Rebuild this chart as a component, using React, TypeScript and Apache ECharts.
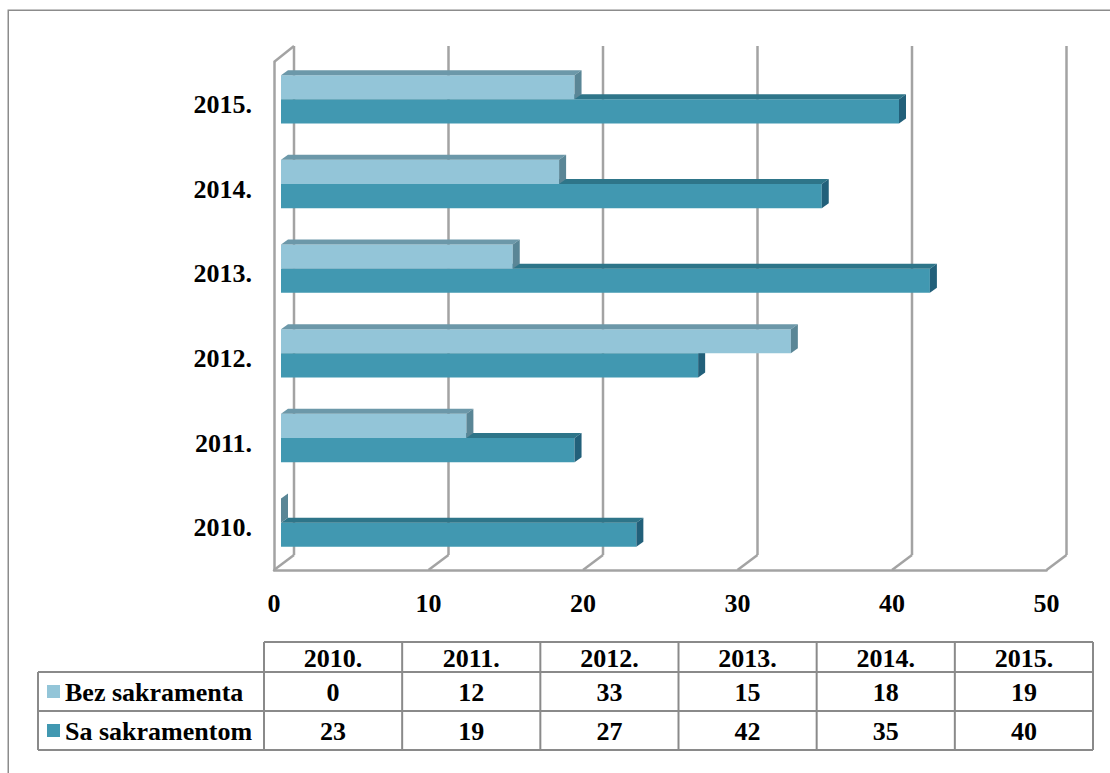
import React, { useEffect, useRef } from "react";
import * as echarts from "echarts";

const categories = ["2010.", "2011.", "2012.", "2013.", "2014.", "2015."];
const seriesNames = ["Bez sakramenta", "Sa sakramentom"];
const bezValues = [0, 12, 33, 15, 18, 19];
const saValues = [23, 19, 27, 42, 35, 40];
const xTicks = [0, 10, 20, 30, 40, 50];

const GRID_COLOR = "#a3a3a3";
const TABLE_COLOR = "#8a8a8a";
const DEPTH_X = 20;
const DEPTH_Y = -15;
const FONT_SIZE = 26;

const palette = [
  { front: "#93C5D8", top: "#6C98A9", side: "#5A8696" },
  { front: "#4198B1", top: "#2E7589", side: "#22607A" },
];

function makeBarRenderer(which: number) {
  return (params: any, api: any) => {
    const cat = api.value(1);
    const val = api.value(0);
    const base = api.coord([0, cat]);
    const end = api.coord([val, cat]);
    const bandH = api.size([0, 1])[1];
    const barH = bandH * 0.285;
    const ox = 7;
    const oy = -5;
    const dx = 7;
    const dy = -5;
    const cy = base[1] + oy;
    const y0 = which === 0 ? cy - barH : cy;
    const y1 = which === 0 ? cy : cy + barH;
    const x0 = base[0] + ox;
    const x1 = end[0] + ox;
    const c = palette[which];
    return {
      type: "group",
      children: [
        {
          type: "rect",
          shape: { x: x0, y: y0, width: x1 - x0, height: y1 - y0 },
          style: { fill: c.front },
        },
        {
          type: "polygon",
          shape: { points: [[x0, y0], [x1, y0], [x1 + dx, y0 + dy], [x0 + dx, y0 + dy]] },
          style: { fill: c.top },
        },
        {
          type: "polygon",
          shape: { points: [[x1, y0], [x1, y1], [x1 + dx, y1 + dy], [x1 + dx, y0 + dy]] },
          style: { fill: c.side },
        },
      ],
    };
  };
}

function wallRenderer(params: any, api: any) {
  const v = api.value(0);
  const cs = params.coordSys;
  const fx = api.coord([v, 0])[0];
  const floorY = cs.y + cs.height;
  const topY = cs.y;
  const ls = { stroke: GRID_COLOR, lineWidth: 2.5 };
  const children: any[] = [
    { type: "line", shape: { x1: fx, y1: floorY, x2: fx + DEPTH_X, y2: floorY + DEPTH_Y }, style: ls },
    { type: "line", shape: { x1: fx + DEPTH_X, y1: floorY + DEPTH_Y, x2: fx + DEPTH_X, y2: topY + DEPTH_Y - 1 }, style: ls },
  ];
  if (v === 0) {
    children.push({ type: "line", shape: { x1: fx, y1: topY, x2: fx + DEPTH_X, y2: topY + DEPTH_Y - 1 }, style: ls });
  }
  return { type: "group", children };
}

function buildTable() {
  const els: any[] = [];
  const labelLeft = 38;
  const c0 = 264;
  const right = 1093;
  const colW = (right - c0) / categories.length;
  const rows = [642, 672, 711, 750];
  const line = (x1: number, y1: number, x2: number, y2: number) => ({
    type: "line",
    shape: { x1, y1, x2, y2 },
    style: { stroke: TABLE_COLOR, lineWidth: 2 },
    z: 10,
  });
  const text = (t: string, x: number, y: number, align: string) => ({
    type: "text",
    z: 11,
    style: {
      text: t,
      x,
      y,
      fontFamily: "Liberation Serif",
      fontWeight: "bold",
      fontSize: FONT_SIZE,
      fill: "#000",
      align,
      verticalAlign: "middle",
      textAlign: align,
      textVerticalAlign: "middle",
    },
  });
  els.push(line(c0, rows[0], right, rows[0]));
  els.push(line(labelLeft, rows[1], right, rows[1]));
  els.push(line(labelLeft, rows[2], right, rows[2]));
  els.push(line(labelLeft, rows[3], right, rows[3]));
  els.push(line(labelLeft, rows[1], labelLeft, rows[3]));
  for (let i = 0; i <= categories.length; i++) {
    const x = c0 + colW * i;
    els.push(line(x, rows[0], x, rows[3]));
  }
  categories.forEach((c, i) => {
    els.push(text(c, c0 + colW * (i + 0.5), (rows[0] + rows[1]) / 2 + 1, "center"));
  });
  const rowData = [bezValues, saValues];
  rowData.forEach((vals, r) => {
    const cy = (rows[r + 1] + rows[r + 2]) / 2 + 1;
    els.push({
      type: "rect",
      z: 11,
      shape: { x: 47, y: cy - 7.5, width: 13, height: 13 },
      style: { fill: palette[r].front },
    });
    els.push(text(seriesNames[r], 65, cy, "left"));
    vals.forEach((v, i) => {
      els.push(text(String(v), c0 + colW * (i + 0.5), cy, "center"));
    });
  });
  els.push({
    type: "rect",
    z: 0,
    shape: { x: 8.25, y: 10.25, width: 1200, height: 1000 },
    style: { fill: "none", stroke: "#8c8c8c", lineWidth: 1.5 },
  });
  return els;
}

export default function App() {
  const ref = useRef<HTMLDivElement>(null);
  useEffect(() => {
    if (!ref.current) return;
    const chart = echarts.init(ref.current, null, { renderer: "svg" });
    const axisLabelStyle = { fontFamily: "Liberation Serif", fontWeight: "bold", fontSize: FONT_SIZE, color: "#000" };
    chart.setOption({
      animation: false,
      backgroundColor: "#fff",
      grid: { left: 274, right: 63.5, top: 62, bottom: 203, containLabel: false },
      xAxis: {
        type: "value",
        min: 0,
        max: 50,
        interval: 10,
        splitLine: { show: false },
        axisTick: { show: false },
        axisLine: { show: true, lineStyle: { color: GRID_COLOR, width: 2.5 } },
        axisLabel: { ...axisLabelStyle, margin: 20 },
      },
      yAxis: {
        type: "category",
        data: categories,
        axisTick: { show: false },
        splitLine: { show: false },
        axisLine: { show: true, lineStyle: { color: GRID_COLOR, width: 2.5 } },
        axisLabel: { ...axisLabelStyle, margin: 22, padding: [4, 0, 0, 0] },
      },
      graphic: { elements: buildTable() },
      series: [
        {
          type: "custom",
          name: "walls",
          z: 1,
          silent: true,
          renderItem: wallRenderer,
          data: xTicks.map((v) => [v, 0]),
          encode: { x: 0, y: 1 },
        },
        {
          type: "custom",
          name: seriesNames[1],
          z: 2,
          renderItem: makeBarRenderer(1),
          data: saValues.map((v, i) => [v, i]),
          encode: { x: 0, y: 1 },
        },
        {
          type: "custom",
          name: seriesNames[0],
          z: 3,
          renderItem: makeBarRenderer(0),
          data: bezValues.map((v, i) => [v, i]),
          encode: { x: 0, y: 1 },
        },
      ],
    });
    return () => chart.dispose();
  }, []);
  return (
    <div
      ref={ref}
      style={{ position: "absolute", left: 0, top: 0, width: 1110, height: 773, overflow: "hidden" }}
    />
  );
}
